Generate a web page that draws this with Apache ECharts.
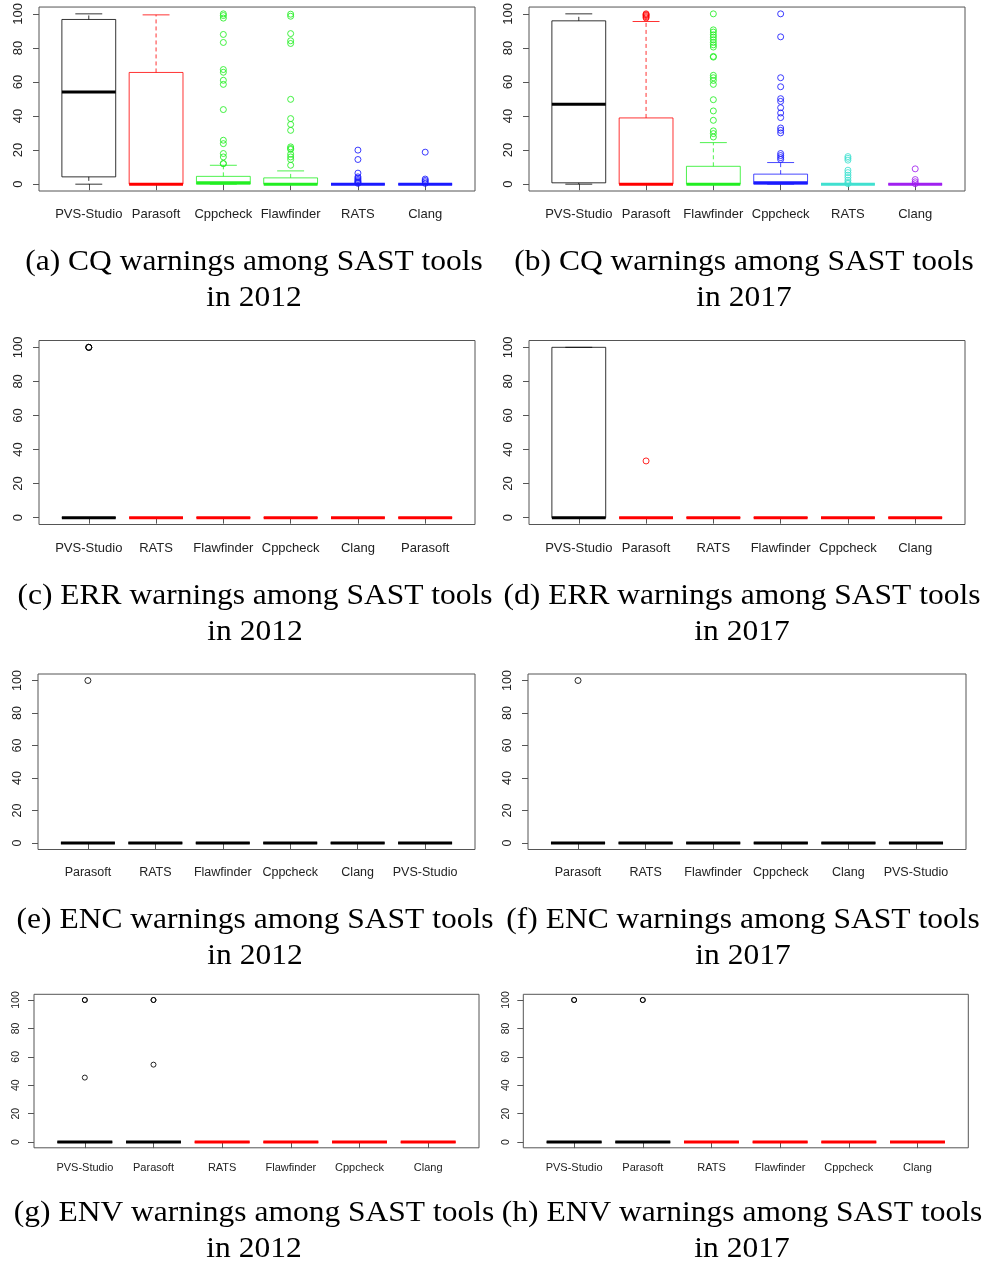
<!DOCTYPE html>
<html>
<head>
<meta charset="utf-8">
<script src="https://cdn.jsdelivr.net/npm/echarts@6/dist/echarts.min.js"></script>
<style>
  html, body { margin: 0; padding: 0; background: #ffffff; }
  #chart { width: 988px; height: 1263px; }
</style>
</head>
<body>
<div id="chart"></div>
<script>
// ---------- DATA ----------
const yTicks = [0, 20, 40, 60, 80, 100];

// box stats per tool: [lower whisker, Q1, median, Q3, upper whisker]
const catsA = ['PVS-Studio', 'Parasoft', 'Cppcheck', 'Flawfinder', 'RATS', 'Clang'];
const boxA = [[0, 4.3, 54.1, 96.7, 100], [0, 0, 0, 65.6, 99.4], [0, 0, 0.8, 4.6, 11.1], [0, 0, 0, 3.7, 7.8], [0, 0, 0, 0, 0], [0, 0, 0, 0, 0]];
const outA = [[], [],
  [100, 99, 97.5, 87.9, 83.2, 67.3, 65.7, 61, 58.6, 43.8, 25.8, 23.8, 18, 16, 12.1, 12.1],
  [99.8, 98.6, 88.4, 84.2, 82.6, 49.8, 38.5, 35.1, 31.6, 21.9, 21, 20.4, 17.6, 16, 14.5, 11.1],
  [20, 14.5, 6.5, 4.3, 3.5, 2.7, 2, 1.4, 1, 0.5],
  [18.8, 3, 2.2, 1.4, 0.5]];

const catsB = ['PVS-Studio', 'Parasoft', 'Flawfinder', 'Cppcheck', 'RATS', 'Clang'];
const boxB = [[0, 0.8, 46.9, 95.9, 100], [0, 0, 0, 38.9, 95.5], [0, 0, 0, 10.5, 24.4], [0, 0, 0.8, 5.9, 12.7], [0, 0, 0, 0, 0], [0, 0, 0, 0, 0]];
const outB = [[],
  [100, 99.5, 99, 98.3, 97.6],
  [100, 90.6, 89.3, 87.7, 86.3, 84.8, 83.2, 81.8, 80.5, 75, 74.6, 63.9, 62.5, 60.9, 58.6, 49.6, 43, 37.5, 31.3, 29.7, 27.7],
  [100, 86.5, 62.5, 57.2, 50.2, 48.6, 44.9, 41.8, 39.1, 33, 31.6, 30.1, 18, 16.8, 15.6, 14.5],
  [16.2, 15.2, 14.1, 8.2, 6.8, 5.3, 3.9, 2.3, 1, 0.3],
  [9, 2.7, 1.4, 0.3]];

const catsC = ['PVS-Studio', 'RATS', 'Flawfinder', 'Cppcheck', 'Clang', 'Parasoft'];
const boxC = [[0, 0, 0, 0, 0], [0, 0, 0, 0, 0], [0, 0, 0, 0, 0], [0, 0, 0, 0, 0], [0, 0, 0, 0, 0], [0, 0, 0, 0, 0]];
const outC = [[100, 100, 100], [], [], [], [], []];

const catsD = ['PVS-Studio', 'Parasoft', 'RATS', 'Flawfinder', 'Cppcheck', 'Clang'];
const boxD = [[0, 0, 0, 100, 100], [0, 0, 0, 0, 0], [0, 0, 0, 0, 0], [0, 0, 0, 0, 0], [0, 0, 0, 0, 0], [0, 0, 0, 0, 0]];
const outD = [[], [33.3], [], [], [], []];

const catsE = ['Parasoft', 'RATS', 'Flawfinder', 'Cppcheck', 'Clang', 'PVS-Studio'];
const boxE = [[0, 0, 0, 0, 0], [0, 0, 0, 0, 0], [0, 0, 0, 0, 0], [0, 0, 0, 0, 0], [0, 0, 0, 0, 0], [0, 0, 0, 0, 0]];
const outE = [[100], [], [], [], [], []];

const catsF = ['Parasoft', 'RATS', 'Flawfinder', 'Cppcheck', 'Clang', 'PVS-Studio'];
const boxF = [[0, 0, 0, 0, 0], [0, 0, 0, 0, 0], [0, 0, 0, 0, 0], [0, 0, 0, 0, 0], [0, 0, 0, 0, 0], [0, 0, 0, 0, 0]];
const outF = [[100], [], [], [], [], []];

const catsG = ['PVS-Studio', 'Parasoft', 'RATS', 'Flawfinder', 'Cppcheck', 'Clang'];
const boxG = [[0, 0, 0, 0, 0], [0, 0, 0, 0, 0], [0, 0, 0, 0, 0], [0, 0, 0, 0, 0], [0, 0, 0, 0, 0], [0, 0, 0, 0, 0]];
const outG = [[100, 100, 45.4], [100, 100, 54.5], [], [], [], []];

const catsH = ['PVS-Studio', 'Parasoft', 'RATS', 'Flawfinder', 'Cppcheck', 'Clang'];
const boxH = [[0, 0, 0, 0, 0], [0, 0, 0, 0, 0], [0, 0, 0, 0, 0], [0, 0, 0, 0, 0], [0, 0, 0, 0, 0], [0, 0, 0, 0, 0]];
const outH = [[100, 100], [100, 100], [], [], [], []];

const captions = [
  ['(a) CQ warnings among SAST tools', 'in 2012'],
  ['(b) CQ warnings among SAST tools', 'in 2017'],
  ['(c) ERR warnings among SAST tools', 'in 2012'],
  ['(d) ERR warnings among SAST tools', 'in 2017'],
  ['(e) ENC warnings among SAST tools', 'in 2012'],
  ['(f) ENC warnings among SAST tools', 'in 2017'],
  ['(g) ENV warnings among SAST tools', 'in 2012'],
  ['(h) ENV warnings among SAST tools', 'in 2017']
];

// ---------- STYLES ----------
const K = '#000000', R = '#ff0000', G = '#22ee22', B = '#1a1aff', T = '#40e0d0', P = '#a020f0';
const colA = [K, R, G, G, B, B];
const colB = [K, R, G, B, T, P];
const colC = [K, R, R, R, R, R];
const colD = [K, R, R, R, R, R];
const colE = [K, K, K, K, K, K];
const colF = [K, K, K, K, K, K];
const colG = [K, K, R, R, R, R];
const colH = [K, K, R, R, R, R];

// ---------- LAYOUT ----------
const panels = [
  { cats: catsA, box: boxA, out: outA, col: colA, grid: { left: 39, top: 6, width: 436, height: 185 }, fs: 13, yfs: 13, sym: 6, cap: [254, 262] },
  { cats: catsB, box: boxB, out: outB, col: colB, grid: { left: 529, top: 6, width: 436, height: 185 }, fs: 13, yfs: 13, sym: 6, cap: [744, 262] },
  { cats: catsC, box: boxC, out: outC, col: colC, grid: { left: 39, top: 340.5, width: 436, height: 184 }, fs: 13, yfs: 13, sym: 6, cap: [255, 596] },
  { cats: catsD, box: boxD, out: outD, col: colD, grid: { left: 529, top: 340.5, width: 436, height: 184 }, fs: 13, yfs: 13, sym: 6, cap: [742, 596] },
  { cats: catsE, box: boxE, out: outE, col: colE, grid: { left: 38, top: 674, width: 437, height: 175.5 }, fs: 12.5, yfs: 12.5, sym: 6, cap: [255, 920] },
  { cats: catsF, box: boxF, out: outF, col: colF, grid: { left: 528, top: 674, width: 438, height: 175.5 }, fs: 12.5, yfs: 12.5, sym: 6, cap: [743, 920] },
  { cats: catsG, box: boxG, out: outG, col: colG, grid: { left: 34, top: 994.3, width: 445, height: 153.5 }, fs: 11, yfs: 10.5, sym: 5, cap: [254, 1213] },
  { cats: catsH, box: boxH, out: outH, col: colH, grid: { left: 523.3, top: 994.3, width: 445, height: 153.5 }, fs: 11, yfs: 10.5, sym: 5, cap: [742, 1213] }
];

function makeRender(cols) {
  return function (params, api) {
    const x = api.value(0);
    const lo = api.value(1), q1 = api.value(2), md = api.value(3), q3 = api.value(4), hi = api.value(5);
    const c = cols[params.dataIndex];
    const pLo = api.coord([x, lo]), pQ1 = api.coord([x, q1]), pMd = api.coord([x, md]);
    const pQ3 = api.coord([x, q3]), pHi = api.coord([x, hi]);
    const cx = pMd[0];
    const w = api.size([0.8, 0])[0];
    const thin = { stroke: c, lineWidth: 1, opacity: 0.8, fill: null };
    const ch = [];
    if (pHi[1] < pQ3[1] - 0.5) ch.push({ type: 'line', shape: { x1: cx, y1: pQ3[1], x2: cx, y2: pHi[1] }, style: Object.assign({}, thin, { lineDash: [4, 3] }) });
    if (pLo[1] > pQ1[1] + 0.5) ch.push({ type: 'line', shape: { x1: cx, y1: pQ1[1], x2: cx, y2: pLo[1] }, style: Object.assign({}, thin, { lineDash: [4, 3] }) });
    ch.push({ type: 'line', shape: { x1: cx - w / 4, y1: pHi[1], x2: cx + w / 4, y2: pHi[1] }, style: thin });
    ch.push({ type: 'line', shape: { x1: cx - w / 4, y1: pLo[1], x2: cx + w / 4, y2: pLo[1] }, style: thin });
    ch.push({ type: 'rect', shape: { x: cx - w / 2, y: pQ3[1], width: w, height: pQ1[1] - pQ3[1] }, style: thin });
    ch.push({ type: 'line', shape: { x1: cx - w / 2, y1: pMd[1], x2: cx + w / 2, y2: pMd[1] }, style: { stroke: c, lineWidth: 3 } });
    return { type: 'group', children: ch };
  };
}

const grid = [], xAxis = [], yAxis = [], series = [], graphic = [];
panels.forEach((p, i) => {
  grid.push(Object.assign({ show: true, borderColor: '#555', borderWidth: 1, backgroundColor: 'transparent' }, p.grid));
  xAxis.push({
    type: 'value', gridIndex: i, min: 0.26, max: 6.74,
    axisLine: { show: false }, splitLine: { show: false },
    axisTick: { show: true, length: 6, lineStyle: { color: '#555' }, customValues: [1, 2, 3, 4, 5, 6] },
    axisLabel: {
      customValues: [1, 2, 3, 4, 5, 6], formatter: v => p.cats[Math.round(v) - 1],
      fontFamily: 'Liberation Sans', fontSize: p.fs, color: '#222', margin: i >= 6 ? 15 : 17
    }
  });
  yAxis.push({
    type: 'value', gridIndex: i, min: -4, max: 104,
    axisLine: { show: false }, splitLine: { show: false },
    axisTick: { show: true, length: 6, lineStyle: { color: '#555' }, customValues: yTicks },
    axisLabel: {
      customValues: yTicks, rotate: 90, fontFamily: 'Liberation Sans', fontSize: p.yfs, color: '#222', margin: i >= 6 ? 12 : 14
    }
  });
  series.push({
    type: 'custom', xAxisIndex: i, yAxisIndex: i,
    data: p.box.map((b, j) => [j + 1].concat(b)),
    encode: { x: 0, y: [1, 2, 3, 4, 5] },
    renderItem: makeRender(p.col), silent: true, z: 2
  });
  const pts = [];
  p.out.forEach((arr, j) => arr.forEach(v => pts.push({ value: [j + 1, v], itemStyle: { borderColor: p.col[j] } })));
  series.push({
    type: 'scatter', xAxisIndex: i, yAxisIndex: i, data: pts, symbol: 'circle', symbolSize: p.sym,
    itemStyle: { color: 'rgba(0,0,0,0)', borderWidth: 1, opacity: 0.85 }, silent: true, z: 3
  });
  [0, 1].forEach(k => {
    graphic.push({
      type: 'text', x: p.cap[0], y: p.cap[1] + 36 * k, scaleX: 1.05, originX: 0, originY: 0,
      style: { text: captions[i][k], font: '30px "Liberation Serif"', fill: '#000', textAlign: 'center', textVerticalAlign: 'middle' }
    });
  });
});

const chart = echarts.init(document.getElementById('chart'), null, { renderer: 'canvas' });
chart.setOption({ animation: false, backgroundColor: '#ffffff', grid, xAxis, yAxis, series, graphic });
</script>
</body>
</html>
